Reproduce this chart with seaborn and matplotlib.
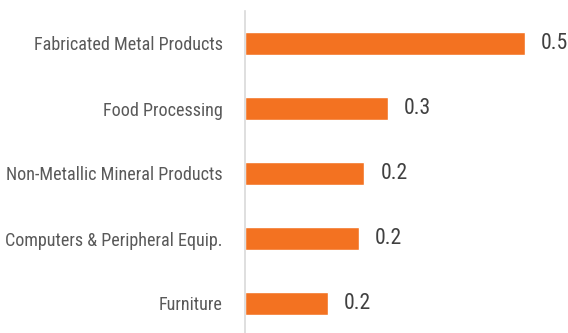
import matplotlib
matplotlib.use("Agg")
import matplotlib.pyplot as plt
import seaborn as sns
import pandas as pd
from matplotlib import font_manager

categories = ["Fabricated Metal Products", "Food Processing", "Non-Metallic Mineral Products",
              "Computers & Peripheral Equip.", "Furniture"]
values = [0.50, 0.255, 0.213, 0.204, 0.148]
value_labels = ["0.5", "0.3", "0.2", "0.2", "0.2"]

sns.set_theme(style="white")
fonts = font_manager.fontManager.ttflist
names = {f.name for f in fonts}
pref = ["Liberation Sans Narrow", "Arial Narrow", "Roboto Condensed", "Open Sans Condensed"]
chosen = None
for p in pref:
    if p in names:
        chosen = p
        break
if chosen is None:
    chosen = "Liberation Sans"
plt.rcParams['font.family'] = [chosen, "DejaVu Sans"]

df = pd.DataFrame({"cat": categories, "val": values})

fig = plt.figure(figsize=(5.68, 3.33), dpi=100)
ax = fig.add_axes([245 / 568, -3 / 333, 323 / 568, 325 / 333])
sns.barplot(data=df, y="cat", x="val", color="#F37221", width=0.354, ax=ax,
            saturation=1, orient="h")
ax.set_xlim(0, 323 / 560)
ax.set_ylim(4.5, -0.5)
ax.set_xlabel("")
ax.set_ylabel("")
ax.set_xticks([])
for s in ["top", "right", "bottom"]:
    ax.spines[s].set_visible(False)
ax.spines["left"].set_color("#d9d9d9")
ax.spines["left"].set_linewidth(1.2)

# size the tick labels so the longest matches the reference width
fig.canvas.draw()
r = fig.canvas.get_renderer()
t = fig.text(0, 0, "Computers & Peripheral Equip.", fontsize=14.5)
w = t.get_window_extent(r).width
t.remove()
fs = min(14.5, 14.5 * 218 / w)
ax.tick_params(axis="y", length=0, pad=16, labelsize=fs, labelcolor="#595959")
for i, (v, lab) in enumerate(zip(values, value_labels)):
    ax.text(v + 16 / 560, i, lab, va="center", ha="left", fontsize=fs * 1.2, color="#404040")

fig.savefig("out.png", dpi=100)
